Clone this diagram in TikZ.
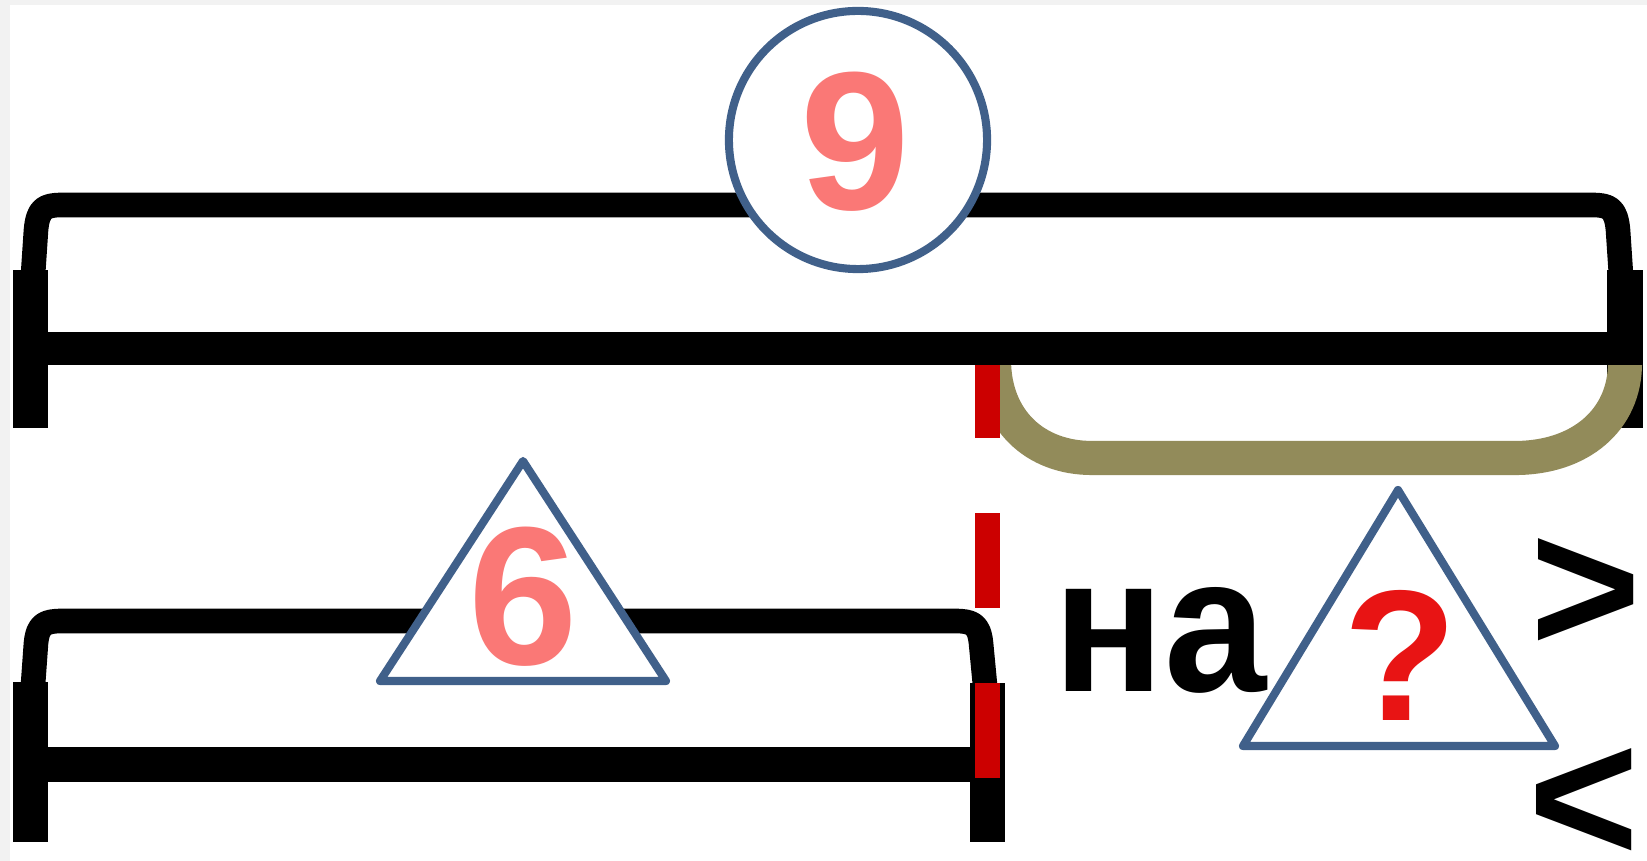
\documentclass[tikz,border=0pt]{standalone}
\usepackage{fontspec}
\setmainfont{Liberation Sans}
\definecolor{bggray}{RGB}{242,242,242}
\definecolor{strokeblue}{RGB}{64,96,138}
\definecolor{salmon}{RGB}{250,120,118}
\definecolor{olivebrace}{RGB}{146,139,90}
\definecolor{dashred}{RGB}{204,0,0}
\definecolor{qred}{RGB}{232,20,20}
\begin{document}
\begin{tikzpicture}[x=0.01cm,y=-0.01cm,
  thinline/.style={line width=7pt,line cap=butt,line join=round},
  blk/.style={fill=black},
  shapeline/.style={draw=strokeblue,line width=2.3pt,fill=white,line join=round},
  numtxt/.style={inner sep=0pt,text=salmon,font=\fontsize{56}{60}\selectfont\bfseries},
  wordtxt/.style={inner sep=0pt,text=black,font=\fontsize{55}{60}\selectfont\bfseries},
  signtxt/.style={inner sep=0pt,text=black,font=\fontsize{54}{60}\selectfont\bfseries},
  qtxt/.style={inner sep=0pt,text=qred,font=\fontsize{53}{60}\selectfont\bfseries}]
\useasboundingbox (0,0) rectangle (1647,861);
\fill[bggray] (0,0) rectangle (1647,861);
\fill[white] (10,5) rectangle (1647,861);
% thin upper lines of the two brackets
\draw[thinline] (33,275) -- (36,230) .. controls (38,208) and (45,205) .. (62,205)
  -- (1592,205) .. controls (1609,205) and (1616,208) .. (1618,230) -- (1621,275);
\draw[thinline] (33,685) -- (36,643) .. controls (38,624) and (45,621) .. (62,621)
  -- (955,621) .. controls (972,621) and (979,624) .. (981,643) -- (985,685);
% posts
\fill[blk] (13,270) rectangle (48,428);
\fill[blk] (1607,270) rectangle (1643,428);
\fill[blk] (13,682) rectangle (48,842);
\fill[blk] (970,683) rectangle (1005,842);
% lower thick bar
\fill[blk] (13,747) rectangle (1005,782);
% olive brace
\draw[olivebrace,line width=9.7pt] (994,345) -- (994,360) .. controls (994,420) and (1035,458) .. (1092,458)
  -- (1515,458) .. controls (1580,458) and (1625,420) .. (1625,363) -- (1625,345);
% red dashed line
\coordinate (rd1) at (987.5,343);
\coordinate (rd2) at (987.5,780);
\draw[dashred,line width=7.1pt,dash pattern=on 0.95cm off 0.75cm] (rd1) -- (rd2);
% upper thick bar
\fill[blk] (13,332) rectangle (1643,365);
% circle with 9
\node[circle,shapeline,minimum size=2.58cm,inner sep=0pt] (c9) at (858,140) {};
\node[numtxt] (n9) at (855,142) {9};
% triangle with 6
\coordinate (t1a) at (523,461);
\coordinate (t1b) at (380,681);
\coordinate (t1c) at (666,681);
\draw[shapeline] (t1a) -- (t1b) -- (t1c) -- cycle;
\node[numtxt] (n6) at (523,597) {6};
% triangle with ?
\coordinate (t2a) at (1398,490);
\coordinate (t2b) at (1243,746);
\coordinate (t2c) at (1555,746);
\draw[shapeline] (t2a) -- (t2b) -- (t2c) -- cycle;
\node[qtxt] (q) at (1400,655) {?};
% word and signs
\node[wordtxt,xscale=0.95] (na) at (1160,640) {на};
\node[signtxt] (gt) at (1586,596) {>};
\node[signtxt] (lt) at (1584,806) {<};
\end{tikzpicture}
\end{document}
